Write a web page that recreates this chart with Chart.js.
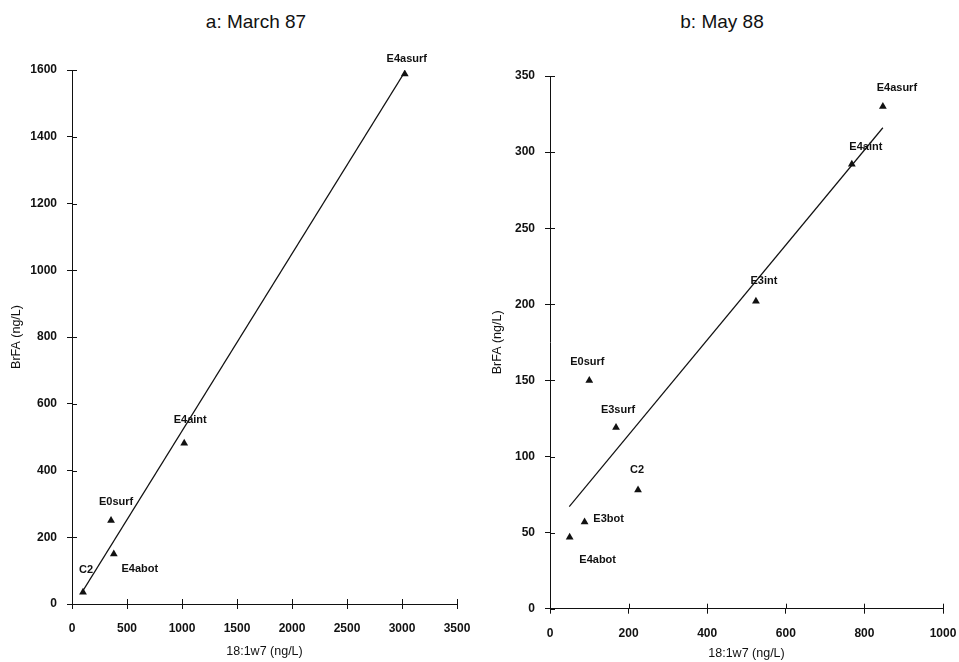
<!DOCTYPE html>
<html>
<head>
<meta charset="utf-8">
<script src="https://cdn.jsdelivr.net/npm/chart.js@4.4.0/dist/chart.umd.min.js"></script>
<style>
  body { margin: 0; background: #fff; width: 959px; height: 662px; overflow: hidden; position: relative;
         font-family: "Liberation Sans", Arial, sans-serif; }
  .panel { position: absolute; top: 0; height: 662px; }
  .title { position: absolute; top: 11px; font-size: 19px; line-height: 22px; color: #111;
           transform: translateX(-50%); white-space: nowrap; }
</style>
</head>
<body>
<div class="title" style="left:256px">a: March 87</div>
<div class="title" style="left:722px">b: May 88</div>
<div class="panel" style="left:0;width:484px"><canvas id="chartA"></canvas></div>
<div class="panel" style="left:485px;width:485px"><canvas id="chartB"></canvas></div>
<script>
// a: March 87
const marchLabels = ['C2', 'E0surf', 'E4abot', 'E4aint', 'E4asurf'];
const marchX = [100, 355, 380, 1020, 3025];
const marchY = [35, 250, 150, 482, 1588];
const marchFitX = [100, 3027];
const marchFitY = [40, 1595];
const marchXTicks = [0, 500, 1000, 1500, 2000, 2500, 3000, 3500];
const marchYTicks = [0, 200, 400, 600, 800, 1000, 1200, 1400, 1600];

// b: May 88
const mayLabels = ['E4abot', 'E3bot', 'E0surf', 'E3surf', 'C2', 'E3int', 'E4aint', 'E4asurf'];
const mayX = [50, 88, 100, 168, 224, 524, 768, 847];
const mayY = [47, 57, 150, 119, 78, 202, 292, 330];
const mayFitX = [49, 847];
const mayFitY = [67, 316];
const mayXTicks = [0, 200, 400, 600, 800, 1000];
const mayYTicks = [0, 50, 100, 150, 200, 250, 300, 350];

const ink = '#111';
const fam = '"Liberation Sans", Arial, sans-serif';

// text offsets of the point labels, in pixels from each triangle
const marchOffsets = [[3, -22], [5, -19], [26, 15], [6, -23], [2, -15]];
const mayOffsets = [[28, 23], [24, -3], [-2, -18], [2, -18], [-1, -20], [8, -20], [14, -17], [14, -18]];

const pointLabels = {
  id: 'pointLabels',
  afterDatasetsDraw(chart, args, opts) {
    const meta = chart.getDatasetMeta(1);
    const ctx = chart.ctx;
    ctx.save();
    ctx.font = 'bold 11px ' + fam;
    ctx.fillStyle = ink;
    ctx.textAlign = 'center';
    ctx.textBaseline = 'middle';
    meta.data.forEach((pt, i) => {
      const [dx, dy] = opts.offsets[i];
      ctx.fillText(opts.labels[i], pt.x + dx, pt.y + dy);
    });
    ctx.restore();
  }
};

// ticks cross the axis line, so add the inner half
const innerTicks = {
  id: 'innerTicks',
  afterDraw(chart) {
    const { ctx, scales: { x, y } } = chart;
    ctx.save();
    ctx.strokeStyle = ink;
    ctx.lineWidth = 1;
    ctx.beginPath();
    x.ticks.forEach((t, i) => {
      const px = Math.round(x.getPixelForTick(i)) + 0.5;
      ctx.moveTo(px, x.top);
      ctx.lineTo(px, x.top - 5);
    });
    y.ticks.forEach((t, i) => {
      const py = Math.round(y.getPixelForTick(i)) + 0.5;
      ctx.moveTo(y.right, py);
      ctx.lineTo(y.right + 5, py);
    });
    ctx.stroke();
    ctx.restore();
  }
};

function makeChart(id, cfg) {
  const tickFont = { family: fam, size: 12, weight: 'bold' };
  const titleFont = { family: fam, size: 12.5 };
  return new Chart(document.getElementById(id), {
    type: 'scatter',
    data: {
      datasets: [
        {
          type: 'line',
          data: cfg.fitX.map((v, i) => ({ x: v, y: cfg.fitY[i] })),
          borderColor: ink,
          borderWidth: 1.2,
          pointRadius: 0,
          fill: false
        },
        {
          data: cfg.xs.map((v, i) => ({ x: v, y: cfg.ys[i] })),
          pointStyle: 'triangle',
          pointRadius: 4.5,
          backgroundColor: ink,
          borderColor: ink,
          borderWidth: 0
        }
      ]
    },
    options: {
      responsive: true,
      maintainAspectRatio: false,
      animation: false,
      layout: { padding: { top: cfg.top, right: cfg.right, left: 0, bottom: 0 } },
      plugins: {
        legend: { display: false },
        tooltip: { enabled: false },
        pointLabels: { labels: cfg.labels, offsets: cfg.offsets }
      },
      scales: {
        x: {
          type: 'linear',
          min: 0,
          max: cfg.xTicks[cfg.xTicks.length - 1],
          afterBuildTicks: s => { s.ticks = cfg.xTicks.map(v => ({ value: v })); },
          ticks: { font: tickFont, color: ink, padding: 12.5, maxRotation: 0, callback: v => String(v) },
          grid: { drawOnChartArea: false, tickLength: 5, color: ink },
          border: { color: ink, width: 1 },
          title: { display: true, text: '18:1w7 (ng/L)', color: ink, font: titleFont,
                   padding: { top: 0, bottom: cfg.xTitlePad } },
          afterFit: s => { s.height = cfg.xHeight; }
        },
        y: {
          type: 'linear',
          min: 0,
          max: cfg.yTicks[cfg.yTicks.length - 1],
          afterBuildTicks: s => { s.ticks = cfg.yTicks.map(v => ({ value: v })); },
          ticks: { font: tickFont, color: ink, padding: 10, callback: v => String(v) },
          grid: { drawOnChartArea: false, tickLength: 5, color: ink },
          border: { color: ink, width: 1 },
          title: { display: true, text: 'BrFA (ng/L)', color: ink, font: titleFont,
                   padding: { top: cfg.yTitlePad, bottom: 0 } },
          afterFit: s => { s.width = cfg.yWidth; }
        }
      }
    },
    plugins: [pointLabels, innerTicks]
  });
}

makeChart('chartA', {
  labels: marchLabels, xs: marchX, ys: marchY, fitX: marchFitX, fitY: marchFitY,
  xTicks: marchXTicks, yTicks: marchYTicks, offsets: marchOffsets,
  top: 70, right: 27, xHeight: 58, yWidth: 72, xTitlePad: 2.5, yTitlePad: 9.5
});

makeChart('chartB', {
  labels: mayLabels, xs: mayX, ys: mayY, fitX: mayFitX, fitY: mayFitY,
  xTicks: mayXTicks, yTicks: mayYTicks, offsets: mayOffsets,
  top: 76, right: 27, xHeight: 53.3, yWidth: 65, xTitlePad: 1.2, yTitlePad: 5.5
});
</script>
</body>
</html>
